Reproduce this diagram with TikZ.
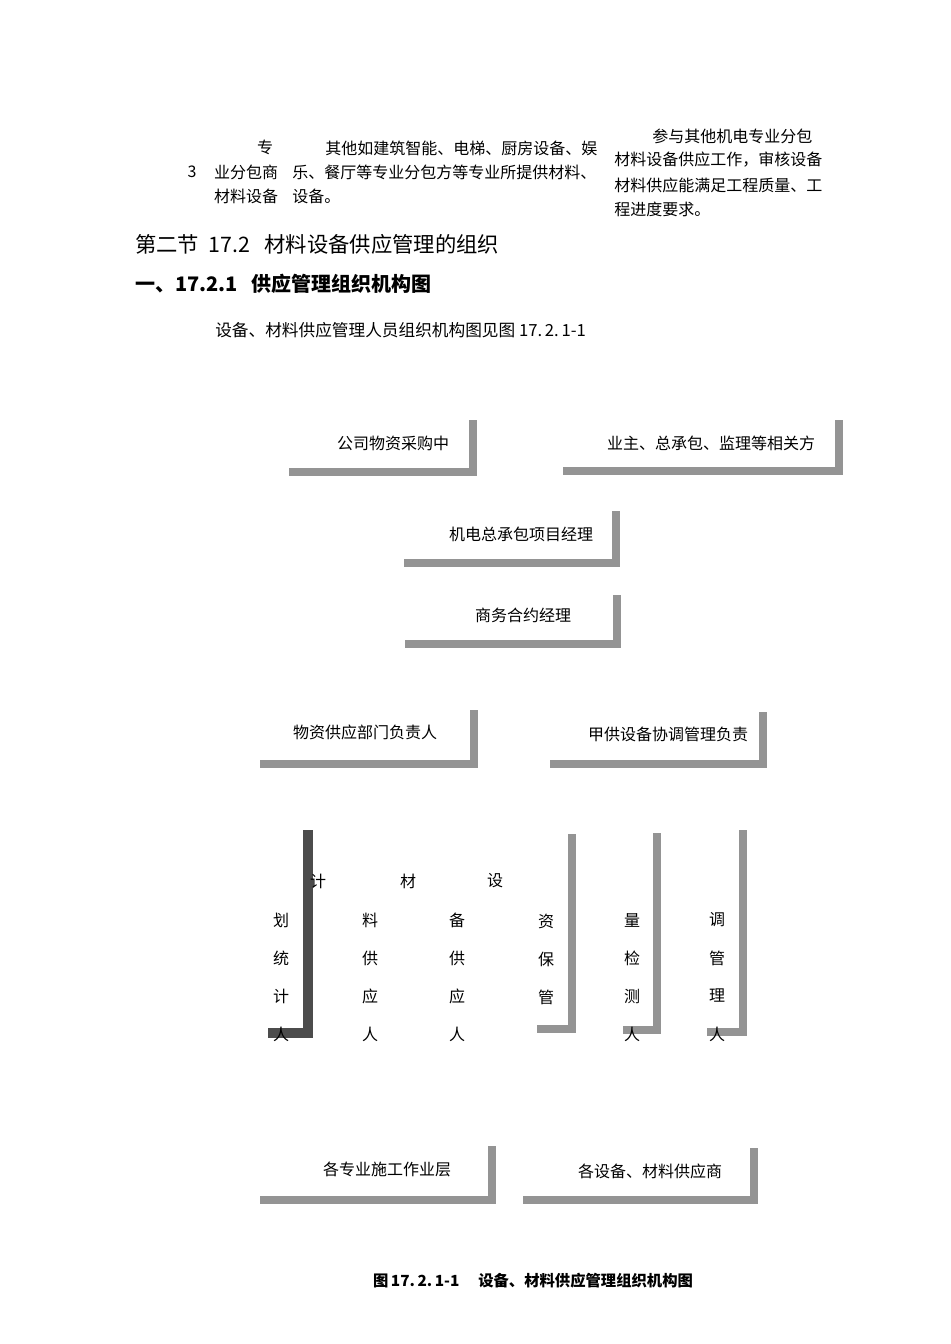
\documentclass[tikz,border=0pt]{standalone}
\usepackage{fontspec}
\setmainfont{Noto Sans CJK SC}
\begin{document}
\begin{tikzpicture}[x=0.75pt,y=-0.75pt,
 bar/.style={fill=black!42,draw=none},
 dbar/.style={fill=black!70,draw=none},
 t/.style={font=\fontsize{12}{13}\selectfont,inner sep=0pt},
 tl/.style={t,anchor=west}]
\useasboundingbox (0,0) rectangle (950,1344);
% top table remnants
\node[t] (a1) at (265,147) {专};
\node[t] (a2) at (192,172) {3};
\node[t] (a3) at (246,172) {业分包商};
\node[t] (a4) at (246,196) {材料设备};
\node[tl] (b1) at (325,148) {其他如建筑智能、电梯、厨房设备、娱};
\node[tl] (b2) at (292,172) {乐、餐厅等专业分包方等专业所提供材料、};
\node[tl] (b3) at (292,196) {设备。};
\node[tl] (c1) at (652,136) {参与其他机电专业分包};
\node[tl] (c2) at (614,160) {材料设备供应工作，审核设备};
\node[tl] (c3) at (614,185) {材料供应能满足工程质量、工};
\node[tl] (c4) at (614,209) {程进度要求。};
\node[anchor=west,inner sep=0pt,font=\fontsize{16}{18}\selectfont] (h1) at (135,244) {第二节\ \ 17.2\ \ \ 材料设备供应管理的组织};
\node[anchor=west,inner sep=0pt,font=\fontsize{15}{17}\selectfont\bfseries] (h2) at (135,284) {一、17.2.1\ \ \ 供应管理组织机构图};
\node[anchor=west,inner sep=0pt,font=\fontsize{12.5}{14}\selectfont] (h3) at (215,330) {设备、材料供应管理人员组织机构图见图\ 17.\,2.\,1-1};
% L-shaped shadow boxes
\foreach \xl/\xr/\yt/\yb in {289/477/420/476, 563/843/420/475, 404/620/511/567, 405/621/595/648, 260/478/710/768, 550/767/712/768, 537/576/834/1033, 623/661/833/1034, 707/747/830/1036, 260/496/1146/1204, 523/758/1148/1204}{
 \fill[bar] (\xr-8,\yt) rectangle (\xr,\yb);
 \fill[bar] (\xl,\yb-8) rectangle (\xr,\yb);
}
\fill[dbar] (303,830) rectangle (313,1038);
\fill[dbar] (268,1028) rectangle (313,1038);
\node[t] (n1) at (393,443) {公司物资采购中};
\node[t] (n2) at (711,443) {业主、总承包、监理等相关方};
\node[t] (n3) at (521,534) {机电总承包项目经理};
\node[t] (n4) at (523,615) {商务合约经理};
\node[t] (n5) at (365,732) {物资供应部门负责人};
\node[t] (n6) at (668,734) {甲供设备协调管理负责};
\node[t] (r1) at (318,881) {计};
\node[t] (r2) at (408,881) {材};
\node[t] (r3) at (495,881) {设};
\foreach \x/\list in {281/{划,统,计,人},370/{料,供,应,人},457/{备,供,应,人},632/{量,检,测,人},717/{调,管,理,人}}{
 \foreach \ch [count=\i] in \list {\node[t] at (\x,882+38*\i) {\ch};}
}
\foreach \ch [count=\i] in {资,保,管} {\node[t] at (546,883+38*\i) {\ch};}
\node[t] (n7) at (387,1169) {各专业施工作业层};
\node[t] (n8) at (650,1171) {各设备、材料供应商};
\node[font=\fontsize{11.5}{13}\selectfont\bfseries,inner sep=0pt] (cap) at (533,1281) {图\,17.\,2.\,1-1\quad\ 设备、材料供应管理组织机构图};
\end{tikzpicture}
\end{document}
